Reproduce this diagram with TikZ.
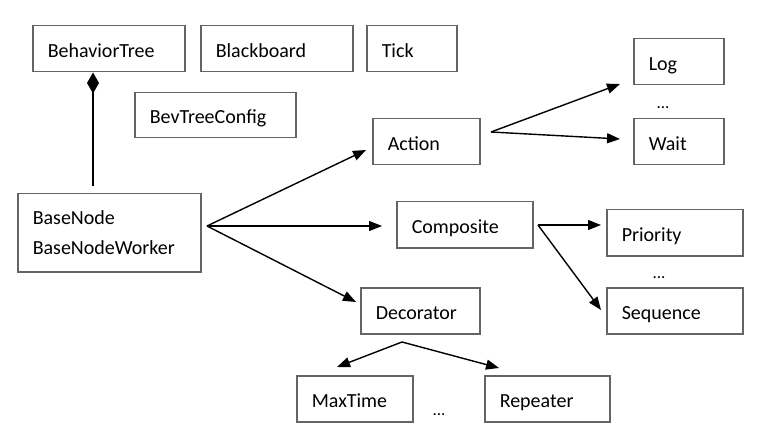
\documentclass[tikz,border=0pt]{standalone}
\usepackage{fontspec}
\setmainfont{Carlito}
\usetikzlibrary{arrows.meta}
\definecolor{boxgray}{RGB}{100,100,100}
\begin{document}
\begin{tikzpicture}[x=1pt,y=-1pt,
  box/.style={draw=boxgray, line width=1.5pt, inner xsep=15pt, inner ysep=0pt,
    align=left, font=\fontsize{20}{30.5}\selectfont, anchor=north west},
  sbox/.style={box, minimum height=46pt, text height=17pt, text depth=0pt},
  arr/.style={line width=1.4pt, -{Triangle[length=13pt,width=10pt]}},
  dots/.style={font=\fontsize{17}{20}\selectfont, anchor=base, inner sep=0pt}]
\fill[white] (0,0) rectangle (770,438);
\useasboundingbox (0,0) rectangle (770,438);

\node[sbox, text width=122pt] (bt) at (32,25) {BehaviorTree};
\node[sbox, text width=122pt] (bb) at (200,25) {Blackboard};
\node[sbox, text width=60pt] (tick) at (366,25) {Tick};
\node[sbox, text width=131pt, minimum height=45pt] (cfg) at (134,92) {BevTreeConfig};
\node[sbox, text width=77pt] (action) at (372,118) {Action};
\node[sbox, text width=60pt] (log) at (633,38) {Log};
\node[sbox, text width=60pt] (wait) at (633,118) {Wait};
\node[box, text width=153pt, minimum height=78pt] (base) at (17,193) {BaseNode\\BaseNodeWorker};
\node[sbox, text width=106pt] (comp) at (396,201) {Composite};
\node[sbox, text width=106pt] (prio) at (606,209) {Priority};
\node[sbox, text width=106pt] (seq) at (606,287) {Sequence};
\node[sbox, text width=89pt] (dec) at (360,287) {Decorator};
\node[sbox, text width=86pt] (maxt) at (296,375) {MaxTime};
\node[sbox, text width=95pt] (rep) at (484,375) {Repeater};

\node[dots] (d1) at (663,109) {...};
\node[dots] (d2) at (659,278) {...};
\node[dots] (d3) at (439,415) {...};

% composition BaseNode -> BehaviorTree
\coordinate (bstart) at (93,186);
\draw[line width=1.4pt, -{Diamond[length=21pt,width=12pt]}] (bstart) -- (bstart |- bt.south);

% fan from BaseNode
\coordinate (fan) at (207,226);
\coordinate (toact) at (366,150);
\coordinate (tocomp) at (382,226);
\coordinate (todec) at (356,302);
\draw[arr] (fan) -- (toact);
\draw[arr] (fan) -- (tocomp);
\draw[arr] (fan) -- (todec);

% Action children
\coordinate (actfan) at (491,132);
\coordinate (tolog) at (620,84);
\coordinate (towait) at (620,139);
\draw[arr] (actfan) -- (tolog);
\draw[arr] (actfan) -- (towait);

% Composite children
\coordinate (compfan) at (538,225);
\coordinate (toprio) at (601,225);
\coordinate (toseq) at (601,310);
\draw[arr] (compfan) -- (toprio);
\draw[arr] (compfan) -- (toseq);

% Decorator children
\coordinate (decfan) at (402,342);
\coordinate (tomax) at (337,367);
\coordinate (torep) at (499,368);
\draw[arr] (decfan) -- (tomax);
\draw[arr] (decfan) -- (torep);
\end{tikzpicture}
\end{document}
